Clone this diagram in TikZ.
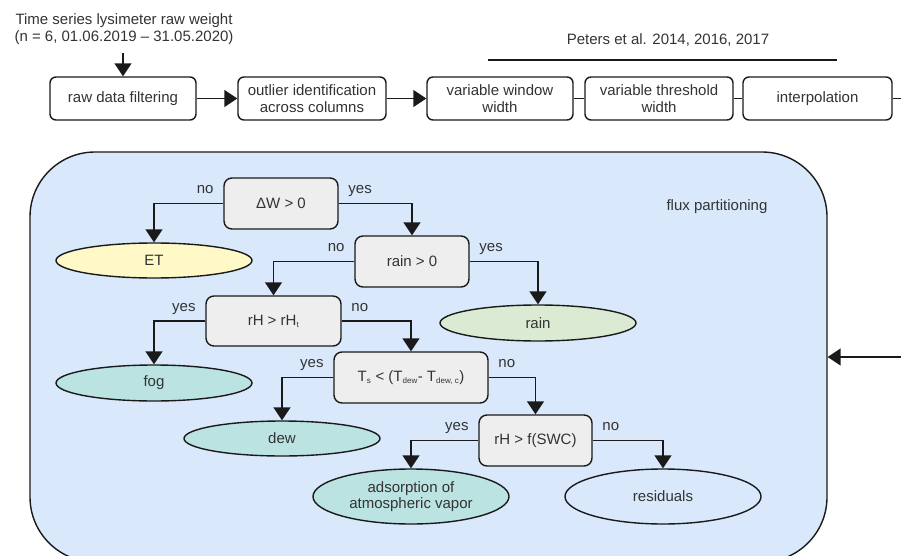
\documentclass[tikz,border=0pt]{standalone}
\usepackage{fontspec}
\setmainfont{Liberation Sans}
\usetikzlibrary{arrows.meta,positioning,shapes.geometric,calc}
\definecolor{fluxblue}{HTML}{DAE8FC}
\definecolor{testgrey}{HTML}{EEEEEE}
\definecolor{etyellow}{HTML}{FFF9C8}
\definecolor{raingreen}{HTML}{DAEAD3}
\definecolor{condteal}{HTML}{BAE3E1}
\definecolor{ink}{HTML}{1A1A1A}
\definecolor{txt}{HTML}{333333}
\newcommand{\tinysub}[1]{\textsubscript{\fontsize{8}{9}\selectfont #1}}

\begin{document}
\begin{tikzpicture}[x=1pt, y=-1pt, font=\fontsize{15}{16.5}\selectfont, text=txt,
    box/.style={draw=ink, line width=1.4pt, rounded corners=6pt, fill=white, align=center,
        minimum height=43pt, inner sep=0pt},
    test/.style={draw=ink, line width=1.4pt, rounded corners=8pt, fill=testgrey, align=center,
        minimum height=51pt, inner sep=0pt},
    leaf/.style={ellipse, draw=ink, line width=1.4pt, align=center, minimum width=196pt, inner sep=0pt},
    arr/.style={line width=1.5pt, draw=ink, -{Triangle[width=17pt,length=13pt]}},
    link/.style={line width=1.5pt, draw=ink},
    lblL/.style={at start, anchor=base east, xshift=-9pt, yshift=10pt, inner sep=0pt},
    lblR/.style={at start, anchor=base west, xshift=9pt, yshift=10pt, inner sep=0pt}]

    % Page frame
    \useasboundingbox (0,0) rectangle (901,556);
    \clip (0,0) rectangle (901,556);

    % Input data
    \node[align=center, inner sep=4pt] (src) at (124,29)
        {Time series lysimeter raw weight\\(n = 6, 01.06.2019 -- 31.05.2020)};

    % Processing chain
    \node[box, minimum width=146pt] (filt) at (123,98.5) {raw data filtering};
    \node[box, minimum width=148pt] (outl) at (312,98.5) {outlier identification\\across columns};
    \node[box, minimum width=146pt] (wind) at (500,98.5) {variable window\\width};
    \node[box, minimum width=148pt] (thre) at (659,98.5) {variable threshold\\width};
    \node[box, minimum width=149pt] (interp) at (817.5,98.5) {interpolation};
    \coordinate (tail) at (905,98.5);

    \draw[arr, shorten <=5pt] (src.south -| filt.north) -- (filt.north);
    \draw[arr] (filt) -- (outl);
    \draw[arr] (outl) -- (wind);
    \draw[link] (wind) -- (thre);
    \draw[link] (thre) -- (interp);
    \draw[link] (interp) -- (tail);

    % Reference bracket
    \node (refs) at (668,40) {Peters et al. 2014, 2016, 2017};
    \draw[link] (488,60) -- (837,60);

    % Flux partitioning panel
    \node[draw=ink, line width=1.4pt, fill=fluxblue, rounded corners=65pt,
        minimum width=797pt, minimum height=410pt] (flux) at (428.5,357) {};
    \node (fluxlbl) at (717,207) {flux partitioning};
    \coordinate (feed) at (905,357);
    \draw[arr] (feed) -- (flux.east);

    % Decisions
    \node[test, minimum width=114pt] (dw) at (281,203.5) {ΔW > 0};
    \node[test, minimum width=114pt] (rn) at (412,261.5) {rain > 0};
    \node[test, minimum width=135pt, minimum height=50pt] (rh) at (273.5,321) {rH > rH\tinysub{t}};
    \node[test, minimum width=154pt] (ts) at (411,377.5)
        {T\tinysub{s} < (T\tinysub{dew}- T\tinysub{dew, c})};
    \node[test, minimum width=113pt] (sw) at (535.5,440.5) {rH > f(SWC)};

    % Outcomes
    \node[leaf, fill=etyellow, minimum height=35pt] (et) at (154,260.5) {ET};
    \node[leaf, fill=raingreen, minimum height=36pt] (rain) at (538,323) {rain};
    \node[leaf, fill=condteal, minimum height=36pt] (fog) at (154,383) {fog};
    \node[leaf, fill=condteal, minimum height=35pt] (dew) at (282,438.5) {dew};
    \node[leaf, fill=condteal, minimum height=55pt] (ads) at (411,496.5) {adsorption of\\atmospheric vapor};
    \node[leaf, fill=fluxblue, minimum height=55pt] (res) at (663,496.5) {residuals};

    % Branches
    \draw[arr] (dw.west) -| node[lblL] {no} (et.north);
    \draw[arr] (dw.east) -| node[lblR] {yes} (rn.north);
    \draw[arr] (rn.west) -| node[lblL] {no} (rh.north);
    \draw[arr] (rn.east) -| node[lblR] {yes} (rain.north);
    \draw[arr] (rh.west) -| node[lblL] {yes} (fog.north);
    \draw[arr] (rh.east) -| node[lblR] {no} (ts.north);
    \draw[arr] (ts.west) -| node[lblL] {yes} (dew.north);
    \draw[arr] (ts.east) -| node[lblR] {no} (sw.north);
    \draw[arr] (sw.west) -| node[lblL] {yes} (ads.north);
    \draw[arr] (sw.east) -| node[lblR] {no} (res.north);

\end{tikzpicture}
\end{document}
